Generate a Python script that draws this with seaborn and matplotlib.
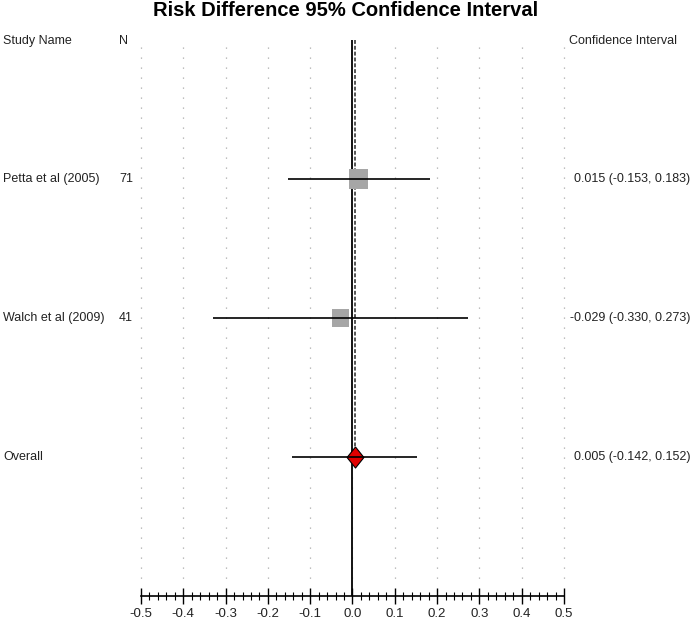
import numpy as np
import pandas as pd
import matplotlib
matplotlib.use("Agg")
import matplotlib.pyplot as plt
import matplotlib.transforms as mtransforms
import seaborn as sns

# data
studies = ["Petta et al (2005)", "Walch et al (2009)"]
n_sizes = [71, 41]
rd = [0.015, -0.029]
lower = [-0.153, -0.330]
upper = [0.183, 0.273]
overall_rd = 0.005
overall_lower = -0.142
overall_upper = 0.152
major_ticks = [-0.5, -0.4, -0.3, -0.2, -0.1, 0.0, 0.1, 0.2, 0.3, 0.4, 0.5]

sns.set_style("white")
plt.rcParams['font.family'] = ['Liberation Sans', 'DejaVu Sans']

W, H = 693, 623
fig = plt.figure(figsize=(W / 100, H / 100), dpi=100)
# plot area: x from -0.5 (141px) to 0.5 (564px), y from 40px to 596px
ax = fig.add_axes([141 / W, (H - 596) / H, (564 - 141) / W, (596 - 40) / H])

rows = [1, 2]
overall_row = 3
df = pd.DataFrame({"study": studies, "n": n_sizes, "rd": rd, "row": rows})

# dotted grid
ax.vlines(major_ticks, 0.05, 3.93, color="#aaaaaa", lw=0.9, linestyle=(0, (1, 7)),
          zorder=1, clip_on=False)

# zero line and dashed overall line
ax.axvline(0, color="black", lw=1.3, zorder=2)
ax.vlines(overall_rd, 0, overall_row - 0.072, color="#555555", lw=1.4,
          linestyle=(0, (2, 1)), zorder=2)

# study boxes
sns.scatterplot(data=df, x="rd", y="row", size="n", sizes=(150, 190), marker="s",
                color="#a6a6a6", edgecolor="none", linewidth=0, legend=False,
                ax=ax, zorder=3)
ax.hlines(rows, lower, upper, color="black", lw=1.2, zorder=4)

# overall diamond
diamond = [(0, 1), (0.8, 0), (0, -1), (-0.8, 0), (0, 1)]
ax.scatter([overall_rd], [overall_row], marker=diamond, s=230, color="#e00000",
           edgecolor="black", linewidth=0.8, zorder=3)
ax.hlines(overall_row, overall_lower, overall_upper, color="black", lw=1.2, zorder=4)

ax.set_xlim(-0.5, 0.5)
ax.set_ylim(4, 0)

# axis styling
for side in ["top", "left", "right"]:
    ax.spines[side].set_visible(False)
ax.spines["bottom"].set_linewidth(1.2)
ax.spines["bottom"].set_color("black")
ax.set_yticks([])
ax.set_xticks(major_ticks)
ax.set_xticklabels([f"{v:.1f}" for v in major_ticks])
ax.set_xticks(np.arange(-0.5, 0.5001, 0.02), minor=True)
ax.tick_params(axis="x", which="major", direction="inout", length=11, width=1,
               color="black", labelsize=9.5, pad=3, bottom=True, labelcolor="#222222")
ax.tick_params(axis="x", which="minor", direction="inout", length=6, width=0.8,
               color="black", bottom=True)
ax.set_xlabel("")
ax.set_ylabel("")

# text columns
tr = mtransforms.blended_transform_factory(fig.transFigure, ax.transData)
txt = dict(fontsize=9, color="#222222", va="center", transform=tr)
fig.text(3 / W, 0.01, "Study Name", ha="left", **txt)
fig.text(119 / W, 0.01, "N", ha="left", **txt)
fig.text(569 / W, 0.01, "Confidence Interval", ha="left", **txt)
for name, n, r, lo, hi, y in zip(studies, n_sizes, rd, lower, upper, rows):
    fig.text(3 / W, y, name, ha="left", **txt)
    fig.text(119 / W, y, str(n), ha="left", **txt)
    fig.text(690 / W, y, f"{r:.3f} ({lo:.3f}, {hi:.3f})", ha="right", **txt)
fig.text(3 / W, overall_row, "Overall", ha="left", **txt)
fig.text(690 / W, overall_row,
         f"{overall_rd:.3f} ({overall_lower:.3f}, {overall_upper:.3f})", ha="right", **txt)

fig.text(346 / W, 1 - 11 / H, "Risk Difference 95% Confidence Interval",
         ha="center", va="center", fontsize=14.5, fontweight="bold", color="black")

fig.savefig("out.png", dpi=100)
